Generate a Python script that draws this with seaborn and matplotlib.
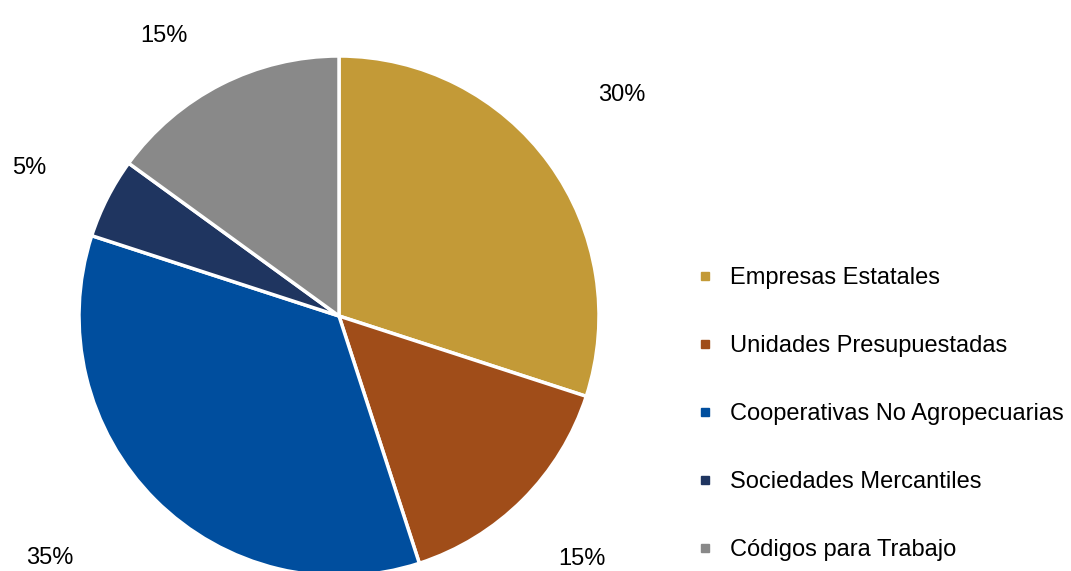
import numpy as np
import matplotlib
matplotlib.use("Agg")
import matplotlib.pyplot as plt
from matplotlib.lines import Line2D
import seaborn as sns

# data
categories = ["Empresas Estatales", "Unidades Presupuestadas",
              "Cooperativas No Agropecuarias", "Sociedades Mercantiles",
              "Códigos para Trabajo"]
shares = [30, 15, 35, 5, 15]
colors = ["#C39A37", "#A04D19", "#004E9E", "#1F3560", "#898989"]

# label placement (radius in pie radii, angle nudge in degrees)
label_radius = [1.38, 1.32, 1.45, 1.32, 1.27]
label_nudge = [2, 0, -5, 1.5, 5]

sns.set_theme(style="white")
plt.rcParams['font.family'] = ['Liberation Sans', 'DejaVu Sans']

fig = plt.figure(figsize=(10.71, 5.71), dpi=100)
ax = fig.add_axes([79 / 1071, -5 / 571, 520 / 1071, 520 / 571])

wedges, texts = ax.pie(
    shares, colors=colors, startangle=90, counterclock=False,
    wedgeprops=dict(edgecolor="white", linewidth=2.5))

# percentage labels outside the wedges
total = sum(shares)
for w, s, r, d in zip(wedges, shares, label_radius, label_nudge):
    ang = np.deg2rad((w.theta1 + w.theta2) / 2 + d)
    ax.text(r * np.cos(ang), r * np.sin(ang), f"{s / total:.0%}",
            ha="center", va="center", fontsize=17, color="black",
            clip_on=False)

ax.set_xlim(-1, 1)
ax.set_ylim(-1, 1)
ax.set_aspect("equal")
ax.axis("off")

handles = [Line2D([], [], marker="s", linestyle="", markersize=6,
                  markerfacecolor=c, markeredgecolor=c) for c in colors]
leg = fig.legend(handles, categories, loc="upper left",
                 bbox_to_anchor=(693 / 1071, 1 - 267 / 571),
                 frameon=False, fontsize=17, labelspacing=1.95,
                 handletextpad=0.57, handlelength=1.0, borderaxespad=0,
                 borderpad=0)
for t in leg.get_texts():
    t.set_color("black")

fig.savefig("out.png", dpi=100)
